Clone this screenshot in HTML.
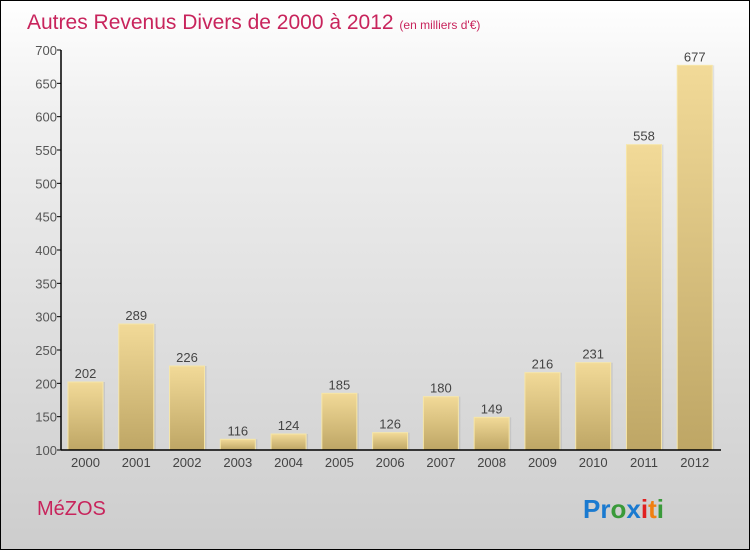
<!DOCTYPE html>
<html><head><meta charset="utf-8"><style>
body{margin:0}
#c{position:relative;width:748px;height:548px;border:1px solid #000;background:linear-gradient(#fff,#f0f0f0 20%,#cdcdcd);overflow:hidden;font-family:"Liberation Sans",sans-serif}
</style></head><body>
<div id="c">
<svg width="748" height="548">
<defs>
<linearGradient id="bg" x1="0" y1="0" x2="0" y2="1"><stop offset="0" stop-color="#f2da98"/><stop offset="1" stop-color="#bea665"/></linearGradient>
</defs>
<text x="26" y="28" font-size="21" fill="#c8245c">Autres Revenus Divers de 2000 à 2012 <tspan font-size="12">(en milliers d'€)</tspan></text>
<g id="plot"></g>
<text x="36" y="514" font-size="20" fill="#c8245c">MéZOS</text>
<text x="582" y="517" font-size="26" font-weight="bold"><tspan fill="#1a7ad0">Pr</tspan><tspan fill="#3a9a3a">o</tspan><tspan fill="#1a7ad0">x</tspan><tspan fill="#e02020">i</tspan><tspan fill="#f08010">t</tspan><tspan fill="#3a9a3a">i</tspan></text>
</svg>
</div>
<script>
const categories=["2000","2001","2002","2003","2004","2005","2006","2007","2008","2009","2010","2011","2012"];
const values=[202,289,226,116,124,185,126,180,149,216,231,558,677];
const yTicks=[100,150,200,250,300,350,400,450,500,550,600,650,700];
const NS="http://www.w3.org/2000/svg";
const g=document.getElementById("plot");
const x0=60,x1=720,yTop=49,yBot=449,vMin=100,vMax=700;
const band=(x1-x0)/categories.length;
const y=v=>yBot-(v-vMin)/(vMax-vMin)*(yBot-yTop);
function mk(t,a){const e=document.createElementNS(NS,t);for(const k in a)e.setAttribute(k,a[k]);g.appendChild(e);return e;}
yTicks.forEach(t=>{
const l=mk("line",{x1:x0-4,x2:x0,y1:y(t),y2:y(t),stroke:"#000"});


const tx=mk("text",{x:x0-4,y:y(t)+5,"font-size":13,fill:"#555","text-anchor":"end"});
tx.textContent=t;


});
categories.forEach((c,i)=>{
const bx=x0+i*band+7,bw=35,by=y(values[i]);
const sh=mk("rect",{x:bx+2,y:by,width:bw,height:yBot-by,fill:"#000","fill-opacity":0.08});


const r=mk("rect",{x:bx,y:by,width:bw,height:yBot-by,fill:"url(#bg)",stroke:"#f6e6a8","stroke-width":1});


const v=mk("text",{x:bx+bw/2,y:by-4,"font-size":13,fill:"#444","text-anchor":"middle"});
v.textContent=values[i];


const t=mk("text",{x:bx+bw/2,y:yBot+17,"font-size":13,fill:"#444","text-anchor":"middle"});
t.textContent=c;


});
const ya=mk("line",{x1:x0,x2:x0,y1:yTop,y2:yBot,stroke:"#000","stroke-width":1.5});


const xa=mk("line",{x1:x0,x2:x1,y1:yBot,y2:yBot,stroke:"#000","stroke-width":1.5});


</script>
</body></html>
